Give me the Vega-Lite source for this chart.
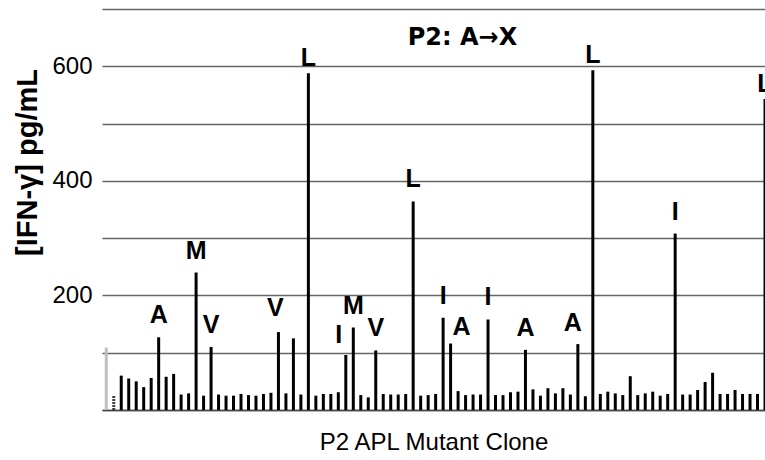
{
  "$schema": "https://vega.github.io/schema/vega-lite/v6.json",
  "width": 663,
  "height": 401,
  "autosize": "none",
  "padding": {"left": 102, "top": 9, "right": 0, "bottom": 50},
  "background": "white",
  "config": {"view": {"stroke": null}, "font": "Liberation Sans"},
  "title": {"text": "P2: A→X", "font": "DejaVu Sans", "fontSize": 24, "fontWeight": "bold", "color": "black", "anchor": "middle", "frame": "group", "orient": "top", "offset": -65, "dx": 29, "baseline": "bottom"},
  "data": {"values": [
    {"id": 0, "value": 109, "label": "", "kind": "neg"},
    {"id": 1, "value": 24, "label": "", "kind": "medium"},
    {"id": 2, "value": 60, "label": "", "kind": "mutant"},
    {"id": 3, "value": 55, "label": "", "kind": "mutant"},
    {"id": 4, "value": 50, "label": "", "kind": "mutant"},
    {"id": 5, "value": 40, "label": "", "kind": "mutant"},
    {"id": 6, "value": 56, "label": "", "kind": "mutant"},
    {"id": 7, "value": 127, "label": "A", "kind": "mutant"},
    {"id": 8, "value": 58, "label": "", "kind": "mutant"},
    {"id": 9, "value": 63, "label": "", "kind": "mutant"},
    {"id": 10, "value": 27, "label": "", "kind": "mutant"},
    {"id": 11, "value": 29, "label": "", "kind": "mutant"},
    {"id": 12, "value": 240, "label": "M", "kind": "mutant"},
    {"id": 13, "value": 25, "label": "", "kind": "mutant"},
    {"id": 14, "value": 110, "label": "V", "kind": "mutant"},
    {"id": 15, "value": 27, "label": "", "kind": "mutant"},
    {"id": 16, "value": 25, "label": "", "kind": "mutant"},
    {"id": 17, "value": 25, "label": "", "kind": "mutant"},
    {"id": 18, "value": 28, "label": "", "kind": "mutant"},
    {"id": 19, "value": 26, "label": "", "kind": "mutant"},
    {"id": 20, "value": 25, "label": "", "kind": "mutant"},
    {"id": 21, "value": 28, "label": "", "kind": "mutant"},
    {"id": 22, "value": 30, "label": "", "kind": "mutant"},
    {"id": 23, "value": 136, "label": "V", "kind": "mutant"},
    {"id": 24, "value": 29, "label": "", "kind": "mutant"},
    {"id": 25, "value": 125, "label": "", "kind": "mutant"},
    {"id": 26, "value": 27, "label": "", "kind": "mutant"},
    {"id": 27, "value": 588, "label": "L", "kind": "mutant"},
    {"id": 28, "value": 25, "label": "", "kind": "mutant"},
    {"id": 29, "value": 28, "label": "", "kind": "mutant"},
    {"id": 30, "value": 28, "label": "", "kind": "mutant"},
    {"id": 31, "value": 31, "label": "", "kind": "mutant"},
    {"id": 32, "value": 96, "label": "I", "kind": "mutant"},
    {"id": 33, "value": 144, "label": "M", "kind": "mutant"},
    {"id": 34, "value": 26, "label": "", "kind": "mutant"},
    {"id": 35, "value": 22, "label": "", "kind": "mutant"},
    {"id": 36, "value": 104, "label": "V", "kind": "mutant"},
    {"id": 37, "value": 28, "label": "", "kind": "mutant"},
    {"id": 38, "value": 27, "label": "", "kind": "mutant"},
    {"id": 39, "value": 27, "label": "", "kind": "mutant"},
    {"id": 40, "value": 28, "label": "", "kind": "mutant"},
    {"id": 41, "value": 364, "label": "L", "kind": "mutant"},
    {"id": 42, "value": 25, "label": "", "kind": "mutant"},
    {"id": 43, "value": 26, "label": "", "kind": "mutant"},
    {"id": 44, "value": 28, "label": "", "kind": "mutant"},
    {"id": 45, "value": 161, "label": "I", "kind": "mutant"},
    {"id": 46, "value": 116, "label": "A", "kind": "mutant"},
    {"id": 47, "value": 33, "label": "", "kind": "mutant"},
    {"id": 48, "value": 26, "label": "", "kind": "mutant"},
    {"id": 49, "value": 27, "label": "", "kind": "mutant"},
    {"id": 50, "value": 27, "label": "", "kind": "mutant"},
    {"id": 51, "value": 158, "label": "I", "kind": "mutant"},
    {"id": 52, "value": 26, "label": "", "kind": "mutant"},
    {"id": 53, "value": 26, "label": "", "kind": "mutant"},
    {"id": 54, "value": 31, "label": "", "kind": "mutant"},
    {"id": 55, "value": 32, "label": "", "kind": "mutant"},
    {"id": 56, "value": 105, "label": "A", "kind": "mutant"},
    {"id": 57, "value": 36, "label": "", "kind": "mutant"},
    {"id": 58, "value": 25, "label": "", "kind": "mutant"},
    {"id": 59, "value": 38, "label": "", "kind": "mutant"},
    {"id": 60, "value": 29, "label": "", "kind": "mutant"},
    {"id": 61, "value": 38, "label": "", "kind": "mutant"},
    {"id": 62, "value": 27, "label": "", "kind": "mutant"},
    {"id": 63, "value": 115, "label": "A", "kind": "mutant"},
    {"id": 64, "value": 24, "label": "", "kind": "mutant"},
    {"id": 65, "value": 593, "label": "L", "kind": "mutant"},
    {"id": 66, "value": 28, "label": "", "kind": "mutant"},
    {"id": 67, "value": 32, "label": "", "kind": "mutant"},
    {"id": 68, "value": 29, "label": "", "kind": "mutant"},
    {"id": 69, "value": 26, "label": "", "kind": "mutant"},
    {"id": 70, "value": 59, "label": "", "kind": "mutant"},
    {"id": 71, "value": 26, "label": "", "kind": "mutant"},
    {"id": 72, "value": 29, "label": "", "kind": "mutant"},
    {"id": 73, "value": 32, "label": "", "kind": "mutant"},
    {"id": 74, "value": 25, "label": "", "kind": "mutant"},
    {"id": 75, "value": 28, "label": "", "kind": "mutant"},
    {"id": 76, "value": 308, "label": "I", "kind": "mutant"},
    {"id": 77, "value": 27, "label": "", "kind": "mutant"},
    {"id": 78, "value": 27, "label": "", "kind": "mutant"},
    {"id": 79, "value": 35, "label": "", "kind": "mutant"},
    {"id": 80, "value": 49, "label": "", "kind": "mutant"},
    {"id": 81, "value": 65, "label": "", "kind": "mutant"},
    {"id": 82, "value": 28, "label": "", "kind": "mutant"},
    {"id": 83, "value": 28, "label": "", "kind": "mutant"},
    {"id": 84, "value": 35, "label": "", "kind": "mutant"},
    {"id": 85, "value": 28, "label": "", "kind": "mutant"},
    {"id": 86, "value": 28, "label": "", "kind": "mutant"},
    {"id": 87, "value": 28, "label": "", "kind": "mutant"},
    {"id": 88, "value": 543, "label": "L", "kind": "mutant"}
  ]},
  "encoding": {
    "x": {"field": "id", "type": "quantitative", "scale": {"domain": [-0.57, 88], "nice": false, "zero": false},
      "axis": {"labels": false, "ticks": false, "grid": false, "domain": true, "domainColor": "#444", "domainWidth": 1.5, "title": "P2 APL Mutant Clone", "titleFontSize": 24, "titleFontWeight": "normal", "titleColor": "black", "titlePadding": 20}},
    "y": {"field": "value", "type": "quantitative", "scale": {"domain": [0, 700], "nice": false},
      "axis": {"values": [0, 100, 200, 300, 400, 500, 600, 700], "labelExpr": "datum.value % 200 == 0 && datum.value > 0 ? datum.label : ''", "labelFontSize": 24, "labelColor": "black", "labelPadding": 10, "ticks": false, "domain": false, "grid": true, "gridColor": "#666", "gridWidth": 1.4, "title": "[IFN-γ] pg/mL", "titleFontSize": 29, "titleFontWeight": "bold", "titleColor": "black", "titleX": -60, "titleY": 153, "titleAngle": -90, "titleAlign": "center", "titleBaseline": "bottom"}}
  },
  "layer": [
    {"transform": [{"filter": "datum.kind == 'mutant'"}], "mark": {"type": "rule", "strokeWidth": 3, "color": "black", "strokeCap": "butt"}, "encoding": {"y2": {"datum": 0}}},
    {"transform": [{"filter": "datum.kind == 'neg'"}], "mark": {"type": "rule", "strokeWidth": 3, "color": "#bdbdbd", "strokeCap": "butt"}, "encoding": {"y2": {"datum": 0}}},
    {"transform": [{"filter": "datum.kind == 'medium'"}], "mark": {"type": "rule", "strokeWidth": 3, "color": "black", "strokeCap": "butt", "strokeDash": [1.5, 1.5]}, "encoding": {"y2": {"datum": 0}}},
    {"transform": [{"filter": "datum.label != '' && datum.id != 32 && datum.id != 46 && datum.id != 63 && datum.id != 23 && datum.id != 27 && datum.id != 65 && datum.id != 88"}], "mark": {"type": "text", "fontSize": 25, "fontWeight": "bold", "color": "black", "baseline": "bottom", "dy": -9}, "encoding": {"text": {"field": "label"}}},
    {"transform": [{"filter": "datum.id == 27 || datum.id == 65 || datum.id == 88"}], "mark": {"type": "text", "fontSize": 25, "fontWeight": "bold", "color": "black", "baseline": "bottom", "dy": -2}, "encoding": {"text": {"field": "label"}}},
    {"transform": [{"filter": "datum.id == 32"}], "mark": {"type": "text", "fontSize": 25, "fontWeight": "bold", "color": "black", "baseline": "bottom", "dy": -7, "dx": -7}, "encoding": {"text": {"field": "label"}}},
    {"transform": [{"filter": "datum.id == 46"}], "mark": {"type": "text", "fontSize": 25, "fontWeight": "bold", "color": "black", "baseline": "bottom", "dy": -4, "dx": 11}, "encoding": {"text": {"field": "label"}}},
    {"transform": [{"filter": "datum.id == 63"}], "mark": {"type": "text", "fontSize": 25, "fontWeight": "bold", "color": "black", "baseline": "bottom", "dy": -8, "dx": -5}, "encoding": {"text": {"field": "label"}}},
    {"transform": [{"filter": "datum.id == 23"}], "mark": {"type": "text", "fontSize": 25, "fontWeight": "bold", "color": "black", "baseline": "bottom", "dy": -11, "dx": -3}, "encoding": {"text": {"field": "label"}}}
  ]
}
